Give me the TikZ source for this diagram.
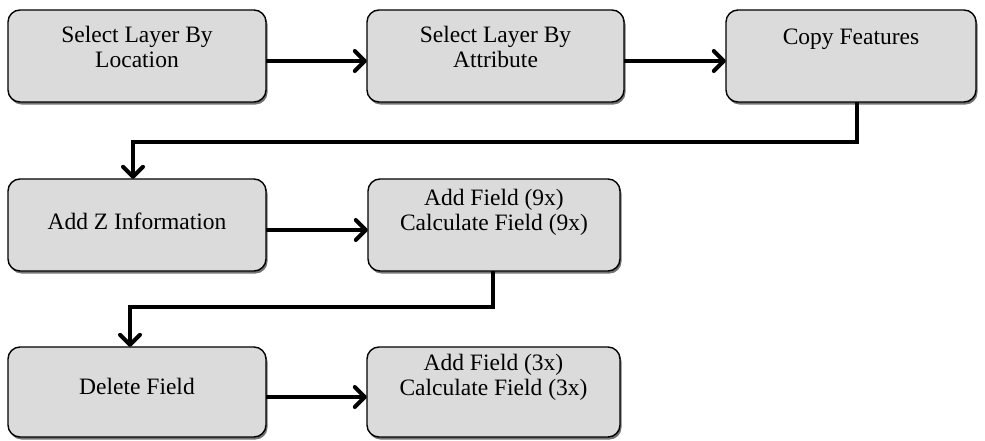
\documentclass[tikz,border=0pt]{standalone}
\usepackage{fontspec}
\setmainfont{Liberation Serif}
\usetikzlibrary{arrows.meta,shadows}
\tikzset{
  boxshape/.style={draw=black, line width=1.4pt, rounded corners=12pt, fill=black!14,
    drop shadow={shadow xshift=1.5pt, shadow yshift=-2.5pt, fill=black!55, opacity=1}},
  lbl/.style={font=\fontsize{23.5}{25}\selectfont, align=center, inner sep=0pt},
  conn/.style={line width=4pt, -{Straight Barb[length=10pt 0 0, width=20pt 0 0, line width=4pt 0, round]}},
}
\begin{document}
\begin{tikzpicture}[x=1pt,y=-1pt]
\useasboundingbox (0,0) rectangle (985,440);
% boxes
\draw[boxshape] (8,10) rectangle (266,102);
\draw[boxshape] (367,10) rectangle (624,102);
\draw[boxshape] (726,10) rectangle (976,102);
\draw[boxshape] (8,179) rectangle (266,271);
\draw[boxshape] (368,179) rectangle (620,271);
\draw[boxshape] (8,347) rectangle (266,437);
\draw[boxshape] (367,347) rectangle (620,437);
% anchor nodes
\node[inner sep=0pt, minimum width=258pt, minimum height=92pt] (b1) at (137,56) {};
\node[inner sep=0pt, minimum width=257pt, minimum height=92pt] (b2) at (495.5,56) {};
\node[inner sep=0pt, minimum width=250pt, minimum height=92pt] (b3) at (851,56) {};
\node[inner sep=0pt, minimum width=258pt, minimum height=92pt] (b4) at (137,225) {};
\node[inner sep=0pt, minimum width=252pt, minimum height=92pt] (b5) at (494,225) {};
\node[inner sep=0pt, minimum width=258pt, minimum height=90pt] (b6) at (137,392) {};
\node[inner sep=0pt, minimum width=253pt, minimum height=90pt] (b7) at (493.5,392) {};
% labels
\node[lbl] (t1) at (137,47) {Select Layer By\\Location};
\node[lbl] (t2) at (495.5,47) {Select Layer By\\Attribute};
\node[lbl] (t3) at (851,39) {Copy Features};
\node[lbl] (t4) at (137,221) {Add Z Information};
\node[lbl] (t5) at (494,212) {Add Field (9x)\\Calculate Field (9x)};
\node[lbl] (t6) at (137,386) {Delete Field};
\node[lbl] (t7) at (493.5,377) {Add Field (3x)\\Calculate Field (3x)};
% connectors
\draw[conn] (266,61) -- (b2.west |- 0,61);
\draw[conn] (624,61) -- (b3.west |- 0,61);
\coordinate (c1) at (857,142);
\coordinate (c1b) at (133,142);
\draw[conn] (b3.south -| c1) -- (c1) -- (c1b) -- (b4.north -| c1b);
\draw[conn] (266,230) -- (b5.west |- 0,230);
\coordinate (c2) at (493,307);
\coordinate (c2b) at (130,307);
\draw[conn] (b5.south -| c2) -- (c2) -- (c2b) -- (b6.north -| c2b);
\draw[conn] (266,397) -- (b7.west |- 0,397);
\end{tikzpicture}
\end{document}
